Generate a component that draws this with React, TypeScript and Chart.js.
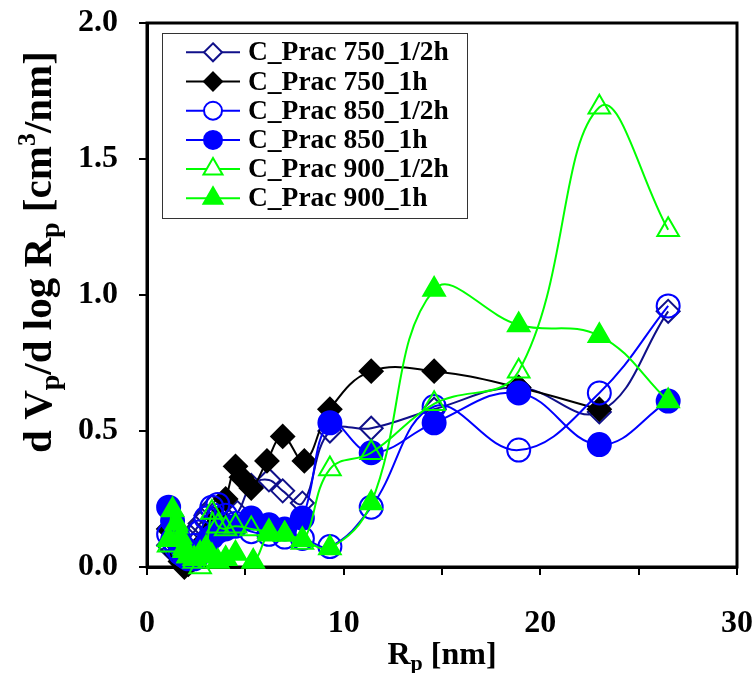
import React, { useEffect, useRef } from 'react';
import { Chart, registerables } from 'chart.js';

Chart.register(...registerables);

const FONT = '"Liberation Serif", "Times New Roman", serif';

// ---- data ----
const seriesNames = [
  'C_Prac 750_1/2h',
  'C_Prac 750_1h',
  'C_Prac 850_1/2h',
  'C_Prac 850_1h',
  'C_Prac 900_1/2h',
  'C_Prac 900_1h',
];

const rp750half = [1.1, 1.3, 1.5, 1.7, 1.9, 2.1, 2.4, 2.7, 3.0, 3.3, 3.6, 4.0, 4.6, 5.3, 6.2, 6.9, 7.9, 9.3, 11.4, 14.6, 18.9, 23.0, 26.5];
const dv750half = [0.08, 0.06, 0.05, 0.06, 0.08, 0.10, 0.13, 0.16, 0.19, 0.22, 0.21, 0.18, 0.20, 0.30, 0.32, 0.28, 0.235, 0.50, 0.51, 0.58, 0.66, 0.57, 0.94];

const rp750one = [1.1, 1.3, 1.5, 1.7, 1.9, 2.1, 2.4, 2.7, 3.0, 3.3, 3.6, 4.0, 4.5, 4.8, 5.3, 6.1, 6.9, 8.0, 9.3, 11.4, 14.6, 18.9, 23.0];
const dv750one = [0.14, 0.10, 0.05, 0.02, 0.00, 0.01, 0.03, 0.06, 0.10, 0.14, 0.18, 0.25, 0.37, 0.33, 0.29, 0.39, 0.48, 0.39, 0.58, 0.72, 0.72, 0.66, 0.58];

const rp850half = [1.1, 1.3, 1.5, 1.7, 1.9, 2.1, 2.4, 2.7, 3.0, 3.3, 3.6, 4.0, 4.5, 5.3, 6.2, 7.0, 7.9, 9.3, 11.4, 14.6, 18.9, 23.0, 26.5];
const dv850half = [0.12, 0.10, 0.07, 0.05, 0.04, 0.05, 0.08, 0.13, 0.18, 0.22, 0.23, 0.19, 0.16, 0.13, 0.12, 0.11, 0.105, 0.075, 0.22, 0.59, 0.43, 0.64, 0.96];

const rp850one = [1.1, 1.3, 1.5, 1.7, 1.9, 2.1, 2.4, 2.7, 3.0, 3.3, 3.6, 4.0, 4.5, 5.3, 6.2, 7.0, 7.9, 9.3, 11.4, 14.6, 18.9, 23.0, 26.5];
const dv850one = [0.22, 0.17, 0.12, 0.08, 0.05, 0.03, 0.03, 0.05, 0.08, 0.11, 0.13, 0.14, 0.15, 0.18, 0.155, 0.14, 0.18, 0.53, 0.42, 0.53, 0.64, 0.45, 0.61];

const rp900half = [1.1, 1.3, 1.5, 1.7, 1.9, 2.1, 2.4, 2.7, 3.0, 3.3, 3.6, 4.0, 4.5, 5.3, 6.2, 7.0, 7.9, 9.3, 11.4, 14.6, 18.9, 23.0, 26.5];
const dv900half = [0.08, 0.12, 0.15, 0.11, 0.07, 0.04, 0.02, 0.00, 0.06, 0.20, 0.15, 0.14, 0.15, 0.14, 0.13, 0.12, 0.09, 0.36, 0.42, 0.60, 0.72, 1.69, 1.24];

const rp900one = [1.1, 1.3, 1.5, 1.7, 1.9, 2.1, 2.4, 2.7, 3.0, 3.3, 3.6, 4.0, 4.5, 5.4, 6.2, 7.0, 7.9, 9.3, 11.4, 14.6, 18.9, 23.0, 26.5];
const dv900one = [0.10, 0.21, 0.16, 0.10, 0.06, 0.04, 0.03, 0.05, 0.07, 0.04, 0.02, 0.03, 0.05, 0.02, 0.12, 0.12, 0.10, 0.07, 0.235, 1.02, 0.89, 0.85, 0.61];

const xTicksMax = 30;
const yTicksMax = 2.0;

// ---- styles ----
type Style = { color: string; shape: 'rectRot' | 'circle' | 'triangle'; filled: boolean; r: number; lr: number };
const styles: Style[] = [
  { color: '#10108a', shape: 'rectRot', filled: false, r: 11.5, lr: 9 },
  { color: '#000000', shape: 'rectRot', filled: true, r: 11.5, lr: 9 },
  { color: '#0000ff', shape: 'circle', filled: false, r: 11.5, lr: 9 },
  { color: '#0000ff', shape: 'circle', filled: true, r: 11.5, lr: 9 },
  { color: '#00ff00', shape: 'triangle', filled: false, r: 12.5, lr: 11 },
  { color: '#00ff00', shape: 'triangle', filled: true, r: 12.5, lr: 11 },
];

const xs = [rp750half, rp750one, rp850half, rp850one, rp900half, rp900one];
const ys = [dv750half, dv750one, dv850half, dv850one, dv900half, dv900one];

function drawMarker(ctx: CanvasRenderingContext2D, s: Style, x: number, y: number, r: number) {
  ctx.beginPath();
  if (s.shape === 'circle') {
    ctx.arc(x, y, r, 0, Math.PI * 2);
  } else if (s.shape === 'rectRot') {
    ctx.moveTo(x, y - r);
    ctx.lineTo(x + r, y);
    ctx.lineTo(x, y + r);
    ctx.lineTo(x - r, y);
    ctx.closePath();
  } else {
    let a = 0;
    ctx.moveTo(x + Math.sin(a) * r, y - Math.cos(a) * r);
    a += (2 * Math.PI) / 3;
    ctx.lineTo(x + Math.sin(a) * r, y - Math.cos(a) * r);
    a += (2 * Math.PI) / 3;
    ctx.lineTo(x + Math.sin(a) * r, y - Math.cos(a) * r);
    ctx.closePath();
  }
  ctx.fillStyle = s.filled ? s.color : '#ffffff';
  ctx.fill();
  ctx.lineWidth = 2;
  ctx.strokeStyle = s.color;
  ctx.stroke();
}

type Seg = { t: string; size: number; dy: number };
function drawRich(ctx: CanvasRenderingContext2D, segs: Seg[], cx: number, baseY: number) {
  let total = 0;
  const widths = segs.map((sg) => {
    ctx.font = `bold ${sg.size}px ${FONT}`;
    const w = ctx.measureText(sg.t).width;
    total += w;
    return w;
  });
  let x = cx - total / 2;
  ctx.textAlign = 'left';
  ctx.textBaseline = 'alphabetic';
  ctx.fillStyle = '#000';
  segs.forEach((sg, i) => {
    ctx.font = `bold ${sg.size}px ${FONT}`;
    ctx.fillText(sg.t, x, baseY + sg.dy);
    x += widths[i];
  });
}

const framePlugin = {
  id: 'frame',
  beforeDatasetsDraw(chart: any) {
    const { ctx, chartArea: a } = chart;
    ctx.save();
    ctx.strokeStyle = '#000';
    ctx.lineWidth = 3;
    ctx.strokeRect(a.left, a.top, a.right - a.left, a.bottom - a.top);
    ctx.restore();
  },
};

const decorPlugin = {
  id: 'decor',
  afterDatasetsDraw(chart: any) {
    const { ctx, chartArea: a } = chart;
    ctx.save();
    // legend
    const bx = 162, by = 33, bw = 305, bh = 185;
    ctx.fillStyle = '#ffffff';
    ctx.fillRect(bx, by, bw, bh);
    ctx.strokeStyle = '#333';
    ctx.lineWidth = 1;
    ctx.strokeRect(bx + 0.5, by + 0.5, bw, bh);
    seriesNames.forEach((name, i) => {
      const y = 52.3 + 29.2 * i;
      const s = styles[i];
      ctx.beginPath();
      ctx.moveTo(186, y);
      ctx.lineTo(240, y);
      ctx.strokeStyle = s.color;
      ctx.lineWidth = 2;
      ctx.stroke();
      drawMarker(ctx, s, 213, y, s.lr);
      ctx.fillStyle = '#000';
      ctx.font = `bold 27.5px ${FONT}`;
      ctx.textAlign = 'left';
      ctx.textBaseline = 'middle';
      ctx.fillText(name, 248, y + 1);
    });
    // x title
    const cx = (a.left + a.right) / 2;
    drawRich(ctx, [
      { t: 'R', size: 32, dy: 0 },
      { t: 'p', size: 22, dy: 6 },
      { t: ' [nm]', size: 32, dy: 0 },
    ], cx, 664);
    // y title
    ctx.save();
    ctx.translate(51, 252);
    ctx.rotate(-Math.PI / 2);
    drawRich(ctx, [
      { t: 'd V', size: 41, dy: 0 },
      { t: 'p', size: 28, dy: 8 },
      { t: '/d log R', size: 41, dy: 0 },
      { t: 'p', size: 28, dy: 8 },
      { t: ' [cm', size: 41, dy: 0 },
      { t: '3', size: 26, dy: -16 },
      { t: '/nm]', size: 41, dy: 0 },
    ], 0, 0);
    ctx.restore();
    ctx.restore();
  },
};

export default function App() {
  const ref = useRef<HTMLCanvasElement | null>(null);
  useEffect(() => {
    if (!ref.current) return;
    const datasets = seriesNames.map((name, i) => {
      const s = styles[i];
      return {
        label: name,
        data: xs[i].map((x, j) => ({ x, y: ys[i][j] })),
        borderColor: s.color,
        backgroundColor: s.filled ? s.color : 'rgba(255,255,255,0)',
        borderWidth: 2,
        pointStyle: s.shape,
        pointRadius: s.r,
        pointBorderWidth: 2,
        pointBorderColor: s.color,
        pointBackgroundColor: s.filled ? s.color : 'rgba(255,255,255,0)',
        tension: 0.4,
        fill: false,
        clip: false,
        order: seriesNames.length - 1 - i,
      };
    });
    const tickFont = { family: FONT, size: 32, weight: 'bold' as const };
    const chart = new Chart(ref.current, {
      type: 'line',
      data: { datasets },
      options: {
        animation: false,
        responsive: false,
        layout: { padding: { top: 23, right: 18, left: 0, bottom: 0 } },
        plugins: { legend: { display: false }, tooltip: { enabled: false } },
        scales: {
          x: {
            type: 'linear',
            min: 0,
            max: xTicksMax,
            afterFit: (s: any) => { s.height = 106; s.paddingLeft = 0; s.paddingRight = 0; },
            ticks: {
              stepSize: 5,
              autoSkip: false,
              maxRotation: 0,
              padding: 30,
              color: '#000',
              font: tickFont,
              callback: (v: any) => (Number(v) % 10 === 0 ? String(v) : ''),
            },
            grid: { drawOnChartArea: false, drawTicks: true, tickLength: 8, color: '#000', lineWidth: 2 },
            border: { display: true, color: '#000', width: 3 },
          },
          y: {
            type: 'linear',
            min: 0,
            max: yTicksMax,
            afterFit: (s: any) => { s.width = 147; s.paddingTop = 0; s.paddingBottom = 0; },
            ticks: {
              stepSize: 0.5,
              padding: 21,
              color: '#000',
              font: tickFont,
              callback: (v: any) => Number(v).toFixed(1),
            },
            grid: { drawOnChartArea: false, drawTicks: true, tickLength: 8, color: '#000', lineWidth: 2 },
            border: { display: true, color: '#000', width: 3 },
          },
        },
      },
      plugins: [framePlugin, decorPlugin],
    } as any);
    return () => chart.destroy();
  }, []);
  return (
    <div style={{ position: 'absolute', left: 0, top: 0, width: 755, height: 673, background: '#fff' }}>
      <canvas ref={ref} width={755} height={673} style={{ display: 'block' }} />
    </div>
  );
}
